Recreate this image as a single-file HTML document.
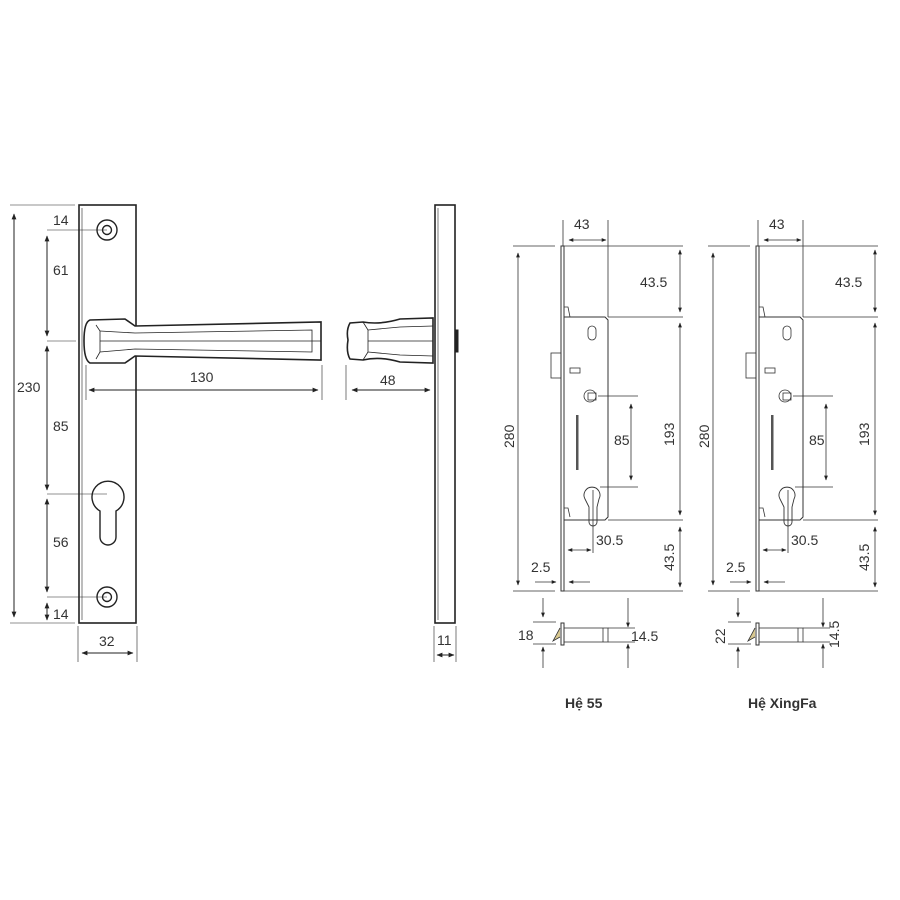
<!DOCTYPE html>
<html><head><meta charset="utf-8"><style>
html,body{margin:0;padding:0;background:#fff;width:900px;height:900px;overflow:hidden}
svg{display:block}
text{font-family:"Liberation Sans",sans-serif;font-size:14px;fill:#333}
</style></head><body>
<svg width="900" height="900" viewBox="0 0 900 900" xmlns="http://www.w3.org/2000/svg">
<defs>
<marker id="a" viewBox="0 0 10 10" refX="9" refY="5" markerWidth="6" markerHeight="6" orient="auto-start-reverse"><path d="M0,1 L10,5 L0,9 z" fill="#222"/></marker>
</defs>
<g stroke="#222" fill="none" stroke-width="1">
<rect x="79" y="205" width="57" height="418" stroke-width="1.6"/>
<line x1="82" y1="208" x2="82" y2="620" stroke-width="0.6"/>
<circle cx="107" cy="230" r="10" stroke-width="1.4"/><circle cx="107" cy="230" r="4.5" stroke-width="1.4"/>
<circle cx="107" cy="597" r="10" stroke-width="1.4"/><circle cx="107" cy="597" r="4.5" stroke-width="1.4"/>
<path d="M100,511 A16,16 0 1 1 116,511 L116,537 A8,8 0 0 1 100,537 Z" stroke-width="1.4"/>
<path d="M90,320 L125,319 L135,326 L321,322 L321,360 L135,356 L125,363 L90,363 Q84,360 84,341 Q84,322 90,320 Z" fill="#fff" stroke-width="1.6"/>
<path d="M96,325 L100,331 L100,352 L96,359" stroke-width="0.8"/>
<path d="M100,331 L135,333 L312,330 L312,352 L135,349 L100,352" stroke-width="0.8"/>
<line x1="100" y1="341" x2="321" y2="341" stroke-width="0.8"/>
<rect x="435" y="205" width="20" height="418" stroke-width="1.6"/>
<line x1="438" y1="208" x2="438" y2="620" stroke-width="0.6"/>
<rect x="455" y="330" width="3" height="22" fill="#222"/>
<path d="M433,318 L433,363 L400,362 Q380,356 363,360 L350,359 Q346,352 348,340 Q346,330 350,323 L363,322 Q380,325 400,319 Z" fill="#fff" stroke-width="1.6"/>
<path d="M363,322 L368,330 L368,352 L363,360 M368,330 L400,327 L433,326 M368,352 L400,355 L433,356 M368,341 L433,341" stroke-width="0.8"/>
<line x1="10" y1="205" x2="75" y2="205" stroke-width="0.6"/>
<line x1="10" y1="623" x2="75" y2="623" stroke-width="0.6"/>
<line x1="47" y1="230" x2="107" y2="230" stroke-width="0.6"/>
<line x1="47" y1="341" x2="76" y2="341" stroke-width="0.6"/>
<line x1="47" y1="494" x2="107" y2="494" stroke-width="0.6"/>
<line x1="47" y1="597" x2="107" y2="597" stroke-width="0.6"/>
<line x1="14" y1="214" x2="14" y2="617" marker-start="url(#a)" marker-end="url(#a)"/>
<line x1="47" y1="236" x2="47" y2="336" marker-start="url(#a)" marker-end="url(#a)"/>
<line x1="47" y1="346" x2="47" y2="490" marker-start="url(#a)" marker-end="url(#a)"/>
<line x1="47" y1="499" x2="47" y2="592" marker-start="url(#a)" marker-end="url(#a)"/>
<line x1="47" y1="603" x2="47" y2="620" marker-start="url(#a)" marker-end="url(#a)"/>
<line x1="78" y1="626" x2="78" y2="662" stroke-width="0.6"/>
<line x1="137" y1="626" x2="137" y2="662" stroke-width="0.6"/>
<line x1="82" y1="653" x2="133" y2="653" marker-start="url(#a)" marker-end="url(#a)"/>
<line x1="86" y1="365" x2="86" y2="400" stroke-width="0.6"/>
<line x1="322" y1="365" x2="322" y2="400" stroke-width="0.6"/>
<line x1="89" y1="390" x2="318" y2="390" marker-start="url(#a)" marker-end="url(#a)"/>
<line x1="346" y1="365" x2="346" y2="400" stroke-width="0.6"/>
<line x1="352" y1="390" x2="430" y2="390" marker-start="url(#a)" marker-end="url(#a)"/>
<line x1="434" y1="626" x2="434" y2="662" stroke-width="0.6"/>
<line x1="456" y1="626" x2="456" y2="662" stroke-width="0.6"/>
<line x1="437" y1="655" x2="454" y2="655" marker-start="url(#a)" marker-end="url(#a)"/>
</g>
<text x="53" y="225">14</text><text x="53" y="275">61</text><text x="53" y="431">85</text><text x="53" y="547">56</text><text x="53" y="619">14</text>
<text x="17" y="392">230</text><text x="99" y="646">32</text><text x="190" y="382">130</text><text x="380" y="385">48</text><text x="437" y="645">11</text>

<g id="lock">
<g stroke="#333" fill="none" stroke-width="0.8">
<line x1="513" y1="246" x2="555" y2="246"/><line x1="564" y1="246" x2="683" y2="246"/>
<line x1="608" y1="317" x2="683" y2="317"/><line x1="608" y1="520" x2="683" y2="520"/>
<line x1="513" y1="591" x2="555" y2="591"/><line x1="564" y1="591" x2="683" y2="591"/>
<line x1="563" y1="220" x2="563" y2="246"/><line x1="608" y1="220" x2="608" y2="317"/>
<rect x="561" y="246" width="3" height="345" stroke-width="1"/>
<path d="M564,317 L605,317 L608,320 L608,517 L605,520 L564,520" stroke-width="1"/>
<path d="M564,307 L568,307 L570,317 M564,508 L568,508 L570,517"/>
<rect x="551" y="353" width="10" height="25"/>
<rect x="570" y="368" width="10" height="5"/>
<rect x="588" y="326" width="8" height="14" rx="4"/>
<circle cx="590" cy="396" r="6"/><rect x="588" y="393" width="8" height="7"/>
<path d="M585,499 A8,8 0 1 1 599,499 L597,507 L597,522 A4,4 0 0 1 589,522 L589,507 Z" stroke-width="0.9"/>
<line x1="598" y1="396" x2="638" y2="396"/><line x1="600" y1="487" x2="638" y2="487"/>
<line x1="593" y1="490" x2="593" y2="553"/>
<line x1="518" y1="253" x2="518" y2="585" marker-start="url(#a)" marker-end="url(#a)"/>
<line x1="569" y1="240" x2="606" y2="240" marker-start="url(#a)" marker-end="url(#a)"/>
<line x1="680" y1="250" x2="680" y2="312" marker-start="url(#a)" marker-end="url(#a)"/>
<line x1="680" y1="323" x2="680" y2="515" marker-start="url(#a)" marker-end="url(#a)"/>
<line x1="680" y1="527" x2="680" y2="587" marker-start="url(#a)" marker-end="url(#a)"/>
<line x1="631" y1="404" x2="631" y2="480" marker-start="url(#a)" marker-end="url(#a)"/>
<line x1="568" y1="550" x2="591" y2="550" marker-start="url(#a)" marker-end="url(#a)"/>
<line x1="535" y1="582" x2="556" y2="582" marker-end="url(#a)"/>
<line x1="590" y1="582" x2="569" y2="582" marker-end="url(#a)"/>
<line x1="543" y1="598" x2="543" y2="617" marker-end="url(#a)"/>
<line x1="628" y1="598" x2="628" y2="627" marker-end="url(#a)"/>
<line x1="543" y1="668" x2="543" y2="647" marker-end="url(#a)"/>
<line x1="628" y1="668" x2="628" y2="644" marker-end="url(#a)"/>
<line x1="533" y1="622" x2="556" y2="622"/><line x1="533" y1="644" x2="556" y2="644"/>
<line x1="608" y1="628" x2="635" y2="628"/><line x1="608" y1="642" x2="635" y2="642"/>
<rect x="561" y="623" width="3" height="22" stroke-width="1"/>
<rect x="564" y="628" width="44" height="14"/><line x1="603" y1="628" x2="603" y2="642"/>
<path d="M560,637 L553,641 L560,628" fill="#d8c890"/>
</g>
<g fill="#555"><rect x="576" y="415" width="2.5" height="55"/></g>
<text x="574" y="229">43</text><text x="640" y="287">43.5</text>
<text x="614" y="445">85</text><text x="596" y="545">30.5</text><text x="531" y="572">2.5</text>
<text transform="translate(514,448) rotate(-90)">280</text>
<text transform="translate(674,446) rotate(-90)">193</text>
<text transform="translate(674,571) rotate(-90)">43.5</text>
</g>
<text x="518" y="640">18</text><text x="631" y="641">14.5</text>
<use href="#lock" transform="translate(195,0)"/>
<text transform="translate(725,644) rotate(-90)">22</text>
<text transform="translate(839,648) rotate(-90)">14.5</text>
<text x="565" y="708" style="font-weight:bold;font-size:14px">Hệ 55</text>
<text x="748" y="708" style="font-weight:bold;font-size:14px">Hệ XingFa</text>
</svg>
</body></html>
